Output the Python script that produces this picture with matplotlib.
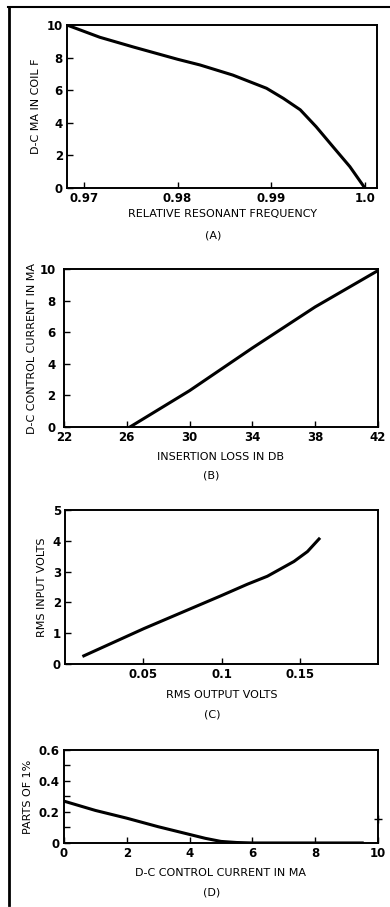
import numpy as np
import matplotlib.pyplot as plt
from matplotlib.lines import Line2D

# (A) relative resonant frequency vs d-c current
freq_a = [0.9682, 0.9717, 0.9753, 0.980, 0.9824, 0.9859, 0.9895, 0.9913,
          0.9931, 0.9948, 0.9966, 0.9984, 1.0]
ma_a = [10, 9.25, 8.65, 7.9, 7.55, 6.93, 6.12, 5.5, 4.8, 3.76, 2.53, 1.31, 0]

# (B) insertion loss vs control current
loss_b = [26.2, 30, 34, 38, 42]
ma_b = [0, 2.3, 5.0, 7.6, 9.9]

# (C) output vs input volts
out_c = [0.012, 0.0504, 0.0749, 0.0994, 0.1165, 0.1293, 0.1463, 0.1549, 0.1623]
in_c = [0.265, 1.15, 1.68, 2.21, 2.59, 2.85, 3.33, 3.65, 4.06]

# (D) distortion vs control current
ma_d = [0, 1, 2, 3, 4, 4.5, 5, 5.5, 6, 8, 9.5]
parts_d = [0.27, 0.21, 0.16, 0.105, 0.055, 0.03, 0.01, 0.003, 0, 0, 0]

plt.rcParams['font.family'] = 'DejaVu Sans'
plt.rcParams['font.weight'] = 'bold'

fig = plt.figure(figsize=(3.9, 9.07), dpi=100)

def style(ax):
    for s in ax.spines.values():
        s.set_linewidth(1.4)
    ax.tick_params(direction='in', length=4, width=1, labelsize=8.5, pad=3)

def caption(ax, xlabel, tag, dy_lab, dy_tag):
    ax.text(0.5, dy_lab, xlabel, transform=ax.transAxes, ha='center', va='center',
            fontsize=8, fontweight='normal')
    ax.text(0.47, dy_tag, tag, transform=ax.transAxes, ha='center', va='center',
            fontsize=8, fontweight='normal')

# A
ax = fig.add_axes([0.1718, 0.7927, 0.795, 0.1797])
ax.plot(freq_a, ma_a, color='black', lw=2.2)
ax.set_xlim(0.9682, 1.0013)
ax.set_ylim(0, 10)
ax.set_xticks([0.97, 0.98, 0.99, 1.0])
ax.set_xticklabels(['0.97', '0.98', '0.99', '1.0'])
ax.set_yticks([0, 2, 4, 6, 8, 10])
ax.set_ylabel('D-C MA IN COIL F', fontsize=8, fontweight='normal', labelpad=4)
style(ax)
caption(ax, 'RELATIVE RESONANT FREQUENCY', '(A)', -0.16, -0.29)

# B
ax = fig.add_axes([0.164, 0.5292, 0.805, 0.1742])
ax.plot(loss_b, ma_b, color='black', lw=2.2)
ax.set_xlim(22, 42)
ax.set_ylim(0, 10)
ax.set_xticks([22, 26, 30, 34, 38, 42])
ax.set_yticks([0, 2, 4, 6, 8, 10])
ax.set_ylabel('D-C CONTROL CURRENT IN MA', fontsize=8, fontweight='normal', labelpad=2)
style(ax)
ax.tick_params(axis='y', pad=6)
caption(ax, 'INSERTION LOSS IN DB', '(B)', -0.19, -0.31)

# C
ax = fig.add_axes([0.1667, 0.2679, 0.8026, 0.1698])
ax.plot(out_c, in_c, color='black', lw=2.2)
ax.set_xlim(0, 0.2)
ax.set_ylim(0, 5)
ax.set_xticks([0.05, 0.1, 0.15])
ax.set_xticklabels(['0.05', '0.1', '0.15'])
ax.set_yticks([0, 1, 2, 3, 4, 5])
ax.set_ylabel('RMS INPUT VOLTS', fontsize=8, fontweight='normal', labelpad=4)
style(ax)
caption(ax, 'RMS OUTPUT VOLTS', '(C)', -0.2, -0.33)

# D
ax = fig.add_axes([0.164, 0.0706, 0.805, 0.1025])
ax.plot(ma_d, parts_d, color='black', lw=2.2)
ax.plot([10], [0.155], marker='+', color='black', ms=6, clip_on=False)
ax.set_xlim(0, 10)
ax.set_ylim(0, 0.6)
ax.set_xticks([0, 2, 4, 6, 8, 10])
ax.set_yticks([0, 0.2, 0.4, 0.6])
ax.set_yticklabels(['0', '0.2', '0.4', '0.6'])
ax.set_yticks([0.1, 0.3, 0.5], minor=True)
ax.tick_params(which='minor', direction='in', length=4, width=1)
ax.set_ylabel('PARTS OF 1%', fontsize=8, fontweight='normal', labelpad=4)
style(ax)
caption(ax, 'D-C CONTROL CURRENT IN MA', '(D)', -0.32, -0.53)

# page frame
fig.add_artist(Line2D([9 / 390, 9 / 390], [1 - 7 / 907, 1 - 905 / 907],
                      transform=fig.transFigure, color='black', lw=2))
fig.add_artist(Line2D([8 / 390, 1.0], [1 - 7 / 907, 1 - 7 / 907],
                      transform=fig.transFigure, color='black', lw=1.5))

fig.savefig('out.png', dpi=100)
